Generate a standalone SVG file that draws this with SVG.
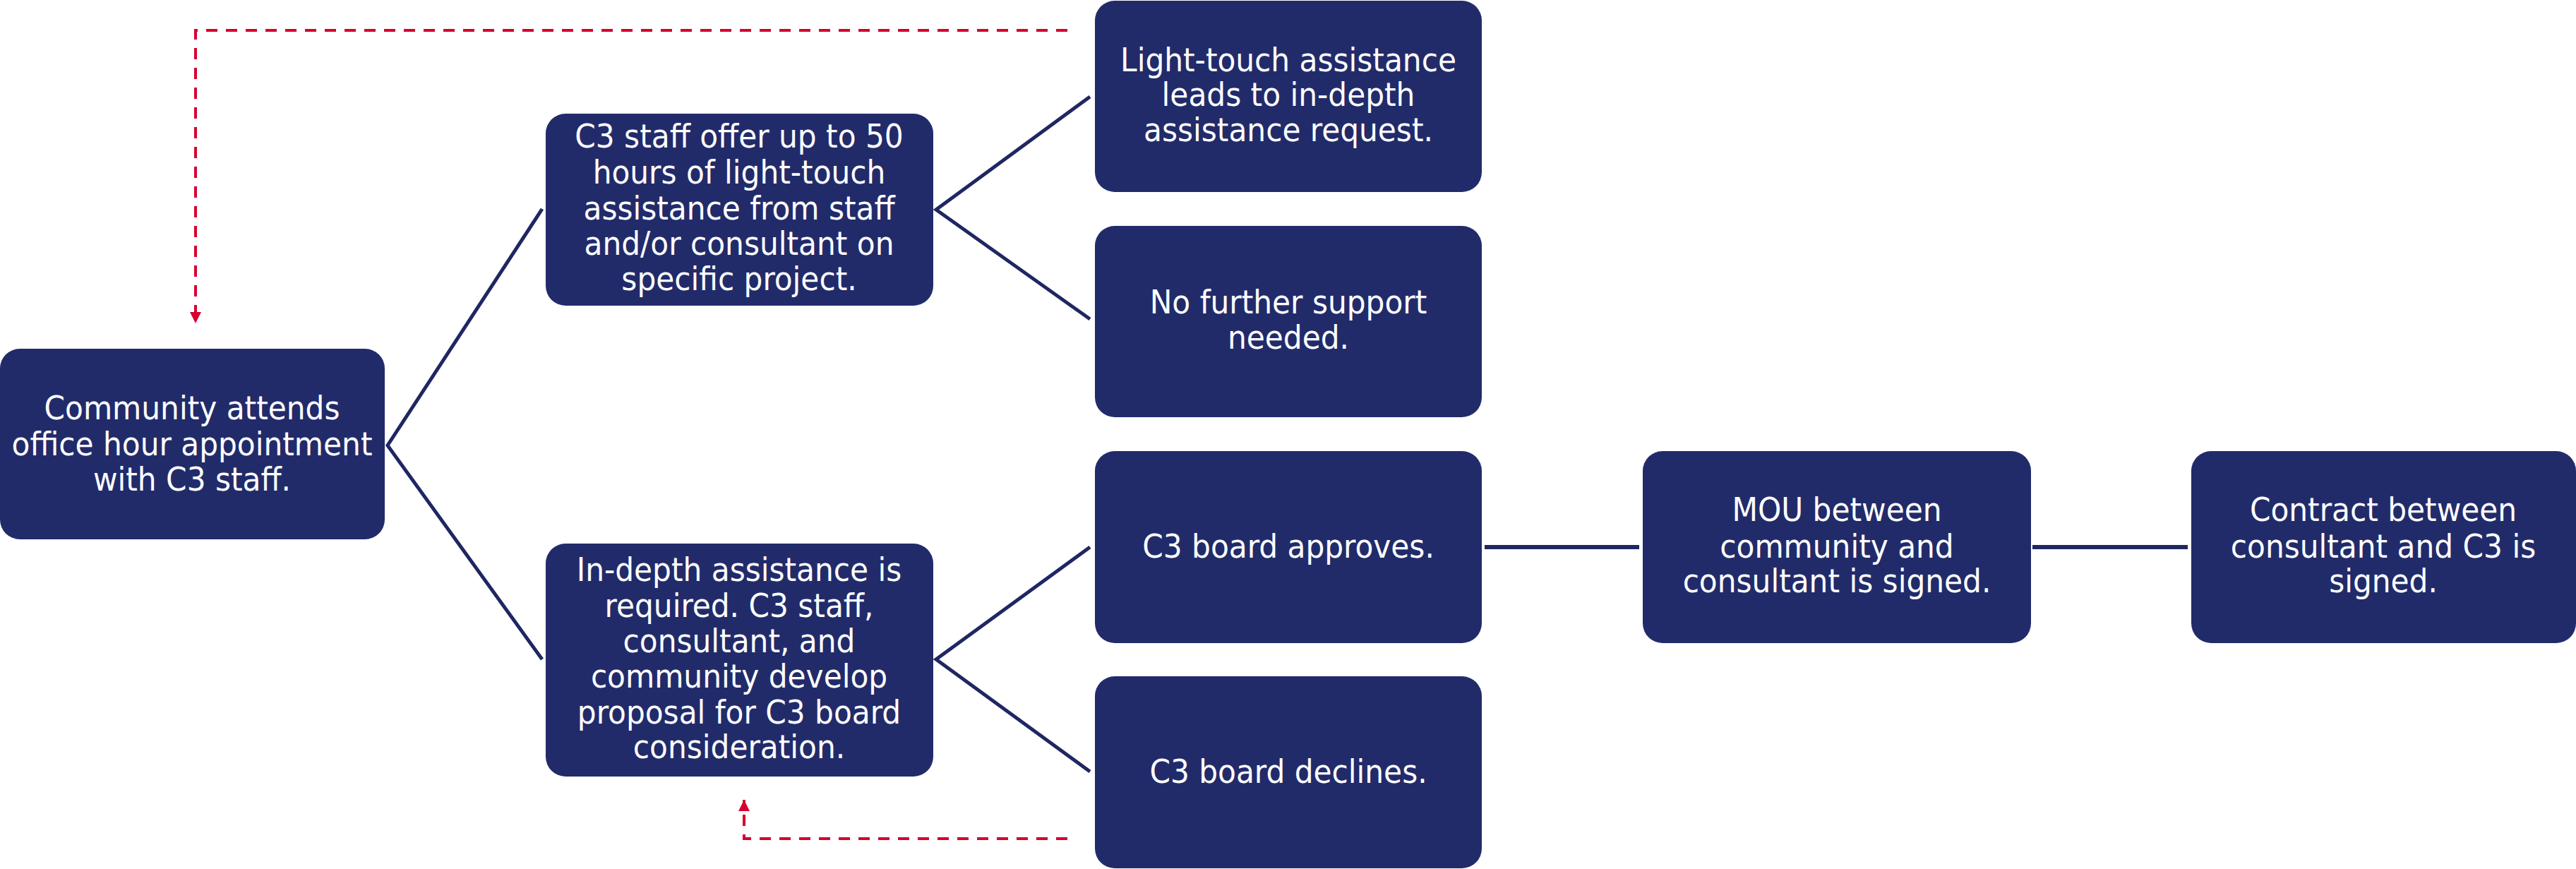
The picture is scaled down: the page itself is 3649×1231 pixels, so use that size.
<svg xmlns="http://www.w3.org/2000/svg" width="3649" height="1231" viewBox="0 0 3649 1231">
<style>
.node rect{fill:#222B6A;}
.node text{fill:#FFFFFF;font-family:"DejaVu Sans Condensed","DejaVu Sans",sans-serif;font-size:47px;text-anchor:middle;}
.conn{stroke:#1F2762;stroke-width:5;fill:none;}
.loop{stroke:#D6002E;stroke-width:4;fill:none;stroke-dasharray:16 12;}
</style>
<defs>
<marker id="ah" markerWidth="16" markerHeight="16" refX="16" refY="8" orient="auto" markerUnits="userSpaceOnUse">
<path d="M0,0 L16,8 L0,16 Z" fill="#D6002E"/>
</marker>
</defs>
<rect width="3649" height="1231" fill="#FFFFFF"/>
<g id="connectors">
<polyline class="conn" points="768,296 549,631 768,934"/>
<polyline class="conn" points="1544,137 1326,297 1544,452"/>
<polyline class="conn" points="1544,775 1326,934 1544,1093"/>
<line class="conn" x1="2103" y1="775" x2="2322" y2="775" style="stroke-width:6"/>
<line class="conn" x1="2879" y1="775" x2="3099" y2="775" style="stroke-width:6"/>
<polyline class="loop" points="1512,43 277,43 277,458" marker-end="url(#ah)"/>
<polyline class="loop" points="1512,1188 1054,1188 1054,1133" marker-end="url(#ah)"/>
</g>
<g id="node-community" class="node">
<rect x="0" y="494" width="545" height="270" rx="28"/>
<text x="272" y="594">Community attends</text>
<text x="272" y="645">office hour appointment</text>
<text x="272" y="695">with C3 staff.</text>
</g>
<g id="node-lighttouch-offer" class="node">
<rect x="773" y="161" width="549" height="272" rx="28"/>
<text x="1047" y="209">C3 staff offer up to 50</text>
<text x="1047" y="260">hours of light-touch</text>
<text x="1047" y="311">assistance from staff</text>
<text x="1047" y="361">and/or consultant on</text>
<text x="1047" y="411">specific project.</text>
</g>
<g id="node-indepth" class="node">
<rect x="773" y="770" width="549" height="330" rx="28"/>
<text x="1047" y="823">In-depth assistance is</text>
<text x="1047" y="874">required. C3 staff,</text>
<text x="1047" y="924">consultant, and</text>
<text x="1047" y="974">community develop</text>
<text x="1047" y="1025">proposal for C3 board</text>
<text x="1047" y="1074">consideration.</text>
</g>
<g id="node-leads" class="node">
<rect x="1551" y="1" width="548" height="271" rx="28"/>
<text x="1825" y="101">Light-touch assistance</text>
<text x="1825" y="150">leads to in-depth</text>
<text x="1825" y="200">assistance request.</text>
</g>
<g id="node-nofurther" class="node">
<rect x="1551" y="320" width="548" height="271" rx="28"/>
<text x="1825" y="444">No further support</text>
<text x="1825" y="494">needed.</text>
</g>
<g id="node-approves" class="node">
<rect x="1551" y="639" width="548" height="272" rx="28"/>
<text x="1825" y="790">C3 board approves.</text>
</g>
<g id="node-declines" class="node">
<rect x="1551" y="958" width="548" height="272" rx="28"/>
<text x="1825" y="1109">C3 board declines.</text>
</g>
<g id="node-mou" class="node">
<rect x="2327" y="639" width="550" height="272" rx="28"/>
<text x="2602" y="738">MOU between</text>
<text x="2602" y="790">community and</text>
<text x="2602" y="839">consultant is signed.</text>
</g>
<g id="node-contract" class="node">
<rect x="3104" y="639" width="545" height="272" rx="28"/>
<text x="3376" y="738">Contract between</text>
<text x="3376" y="790">consultant and C3 is</text>
<text x="3376" y="839">signed.</text>
</g>
</svg>
